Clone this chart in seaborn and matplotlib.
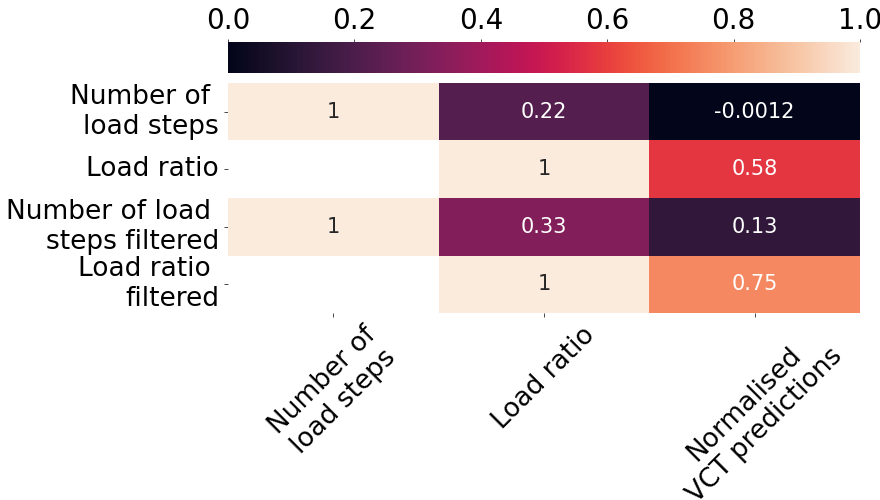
import numpy as np
import pandas as pd
import matplotlib
matplotlib.use('Agg')
import matplotlib.pyplot as plt
import seaborn as sns

# correlation values (blank cells are NaN)
row_labels = ['Number of \nload steps', 'Load ratio',
              'Number of load \nsteps filtered', 'Load ratio \nfiltered']
col_labels = ['Number of\nload steps', 'Load ratio', 'Normalised\nVCT predictions']
col_steps = [1, np.nan, 1, np.nan]
col_ratio = [0.22, 1, 0.33, 1]
col_vct = [-0.0012, 0.58, 0.13, 0.75]

df = pd.DataFrame({col_labels[0]: col_steps,
                   col_labels[1]: col_ratio,
                   col_labels[2]: col_vct}, index=row_labels)

sns.set_style('ticks', {'text.color': 'black', 'xtick.color': 'black',
                        'ytick.color': 'black', 'axes.labelcolor': 'black'})
fig = plt.figure(figsize=(8.8, 5), dpi=100)
ax = fig.add_axes([228 / 880, 187 / 500, 632 / 880, 230 / 500])
cax = fig.add_axes([228 / 880, 427 / 500, 632 / 880, 31 / 500])

sns.heatmap(df, ax=ax, cbar_ax=cax, cmap='rocket', vmin=0, vmax=1,
            annot=True, annot_kws={'fontsize': 15},
            cbar_kws={'orientation': 'horizontal'})

cax.xaxis.set_ticks_position('top')
cax.tick_params(labelsize=20, length=2, width=0.5, pad=3)
cax.set_xticks([0, 0.2, 0.4, 0.6, 0.8, 1.0])
cax.set_xticklabels(['0.0', '0.2', '0.4', '0.6', '0.8', '1.0'])

ax.tick_params(axis='both', labelsize=19, length=3, width=0.5)
plt.setp(ax.get_yticklabels(), rotation=0, ha='right', va='center')
plt.setp(ax.get_xticklabels(), rotation=45, ha='center')

plt.savefig('out.png', dpi=100)
